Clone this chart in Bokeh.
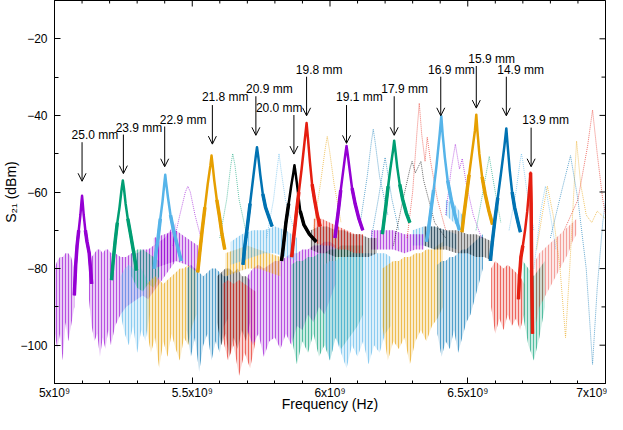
from bokeh.plotting import figure
from bokeh.models import FixedTicker, Range1d, Arrow, OpenHead, ColumnDataSource
from bokeh.core.properties import value
from bokeh.embed import file_html
from bokeh.resources import INLINE

# ---------------- data (frequency in GHz, S21 in dBm) ----------------
PURPLE = "#9400D3"; GREEN = "#009E73"; LBLUE = "#56B4E9"; ORANGE = "#E69F00"
BLUE = "#0072B2"; RED = "#E51E10"; BLACK = "#000000"

# solid resonance peaks (one per resonator length)
f_250 = [5.072, 5.077, 5.082, 5.088, 5.094, 5.098, 5.100, 5.102, 5.106, 5.112, 5.118, 5.126, 5.135]
s_250 = [-87, -79, -74, -70, -66, -62.5, -61, -62.5, -66, -70, -73, -76, -84]
f_239 = [5.207, 5.213, 5.220, 5.228, 5.236, 5.244, 5.248, 5.252, 5.258, 5.266, 5.276, 5.288, 5.298]
s_239 = [-83, -78, -73, -68, -64, -59, -57, -59, -63, -67, -71, -76, -80.5]
f_229 = [5.362, 5.368, 5.376, 5.384, 5.392, 5.399, 5.402, 5.405, 5.412, 5.421, 5.432, 5.446, 5.460]
s_229 = [-80, -76, -72, -67, -62.5, -57.5, -55.5, -57.5, -61.5, -66, -70, -74, -78]
f_218 = [5.520, 5.527, 5.536, 5.546, 5.556, 5.566, 5.570, 5.574, 5.580, 5.589, 5.598, 5.608, 5.618]
s_218 = [-81, -76, -70, -64, -58, -53, -50.5, -53, -57, -62, -66, -71, -75]
f_209 = [5.684, 5.691, 5.700, 5.710, 5.720, 5.730, 5.735, 5.740, 5.747, 5.756, 5.766, 5.778, 5.790]
s_209 = [-79, -74, -69, -63, -57, -51, -48.3, -51, -55.5, -60.5, -64, -66.5, -69]
f_200 = [5.824, 5.831, 5.840, 5.850, 5.859, 5.867, 5.871, 5.875, 5.882, 5.892, 5.905, 5.925, 5.950]
s_200 = [-78, -74, -68, -63, -58.5, -55, -53, -55, -59, -65, -68.5, -71, -73]
f_198 = [5.861, 5.868, 5.877, 5.887, 5.897, 5.909, 5.915, 5.920, 5.927, 5.935, 5.944, 5.954, 5.964]
s_198 = [-77, -72, -66, -60, -54, -46, -42, -46, -52, -58, -62, -66, -69]
f_191 = [6.018, 6.024, 6.031, 6.039, 6.047, 6.056, 6.060, 6.064, 6.071, 6.080, 6.091, 6.105, 6.119]
s_191 = [-72, -68.5, -64.5, -59.5, -55, -50, -48, -50, -54, -59, -63, -67, -70]
f_179 = [6.190, 6.196, 6.203, 6.211, 6.219, 6.229, 6.233, 6.237, 6.244, 6.253, 6.264, 6.277, 6.290]
s_179 = [-71, -67.5, -63.5, -58.5, -54, -49, -46.6, -49, -53.5, -58, -62, -65.5, -68]
f_169 = [6.350, 6.357, 6.366, 6.376, 6.386, 6.398, 6.404, 6.409, 6.417, 6.427, 6.440, 6.455, 6.470]
s_169 = [-73, -70, -65, -59.5, -53.5, -45, -40.2, -45, -51, -57, -62, -66.5, -70]
f_159 = [6.479, 6.486, 6.495, 6.505, 6.515, 6.526, 6.531, 6.535, 6.542, 6.552, 6.563, 6.577, 6.590]
s_159 = [-70.5, -66, -61, -55.5, -50, -44, -39.8, -44, -50, -56, -60.5, -65, -68.5]
f_149 = [6.582, 6.590, 6.599, 6.609, 6.620, 6.633, 6.640, 6.645, 6.652, 6.661, 6.670, 6.681, 6.691]
s_149 = [-78, -72.5, -67, -61.5, -55.5, -48, -43.4, -48, -54, -60, -64, -67.5, -70.5]
f_139 = [6.684, 6.688, 6.693, 6.700, 6.708, 6.716, 6.722, 6.726, 6.728, 6.730, 6.732, 6.735]
s_139 = [-88, -82, -77, -74, -70, -65, -60, -56.5, -55, -63, -80, -97]

# secondary (dotted) resonances
d1_f = [5.43, 5.455, 5.475, 5.484, 5.493, 5.51, 5.535]
d1_s = [-74, -66, -60, -58.5, -60, -66, -73]
d2_f = [5.60, 5.625, 5.64, 5.647, 5.655, 5.67, 5.70]
d2_s = [-72, -62, -53, -50, -53, -62, -72]
d3_f = [5.77, 5.795, 5.808, 5.815, 5.822, 5.838, 5.87]
d3_s = [-72, -62, -54, -50, -54, -62, -70]
d4_f = [5.94, 5.965, 5.982, 5.99, 5.998, 6.015, 6.04]
d4_s = [-70, -58, -49, -45.5, -49, -58, -68]
d5_f = [6.11, 6.135, 6.15, 6.157, 6.164, 6.18, 6.21]
d5_s = [-68, -56, -47, -43.6, -47, -56, -66]
d6_f = [6.15, 6.175, 6.193, 6.20, 6.207, 6.225, 6.25]
d6_s = [-72, -62, -54, -51, -54, -62, -70]
d7_f = [6.23, 6.265, 6.29, 6.298, 6.31, 6.33, 6.34, 6.38, 6.42]
d7_s = [-74, -62, -54, -52, -55, -52, -57, -68, -72]
d8_f = [6.28, 6.30, 6.315, 6.324, 6.333, 6.345, 6.353, 6.365, 6.39, 6.42]
d8_s = [-72, -60, -45, -36.8, -45, -52, -45.7, -52, -62, -70]
d9_f = [6.42, 6.44, 6.455, 6.47, 6.48, 6.495, 6.52, 6.55]
d9_s = [-66, -54, -47.5, -54, -51.3, -58, -66, -72]
d10_f = [6.53, 6.56, 6.578, 6.595, 6.62]
d10_s = [-70, -58, -50.7, -58, -68]
d11_f = [6.65, 6.675, 6.69, 6.695, 6.70, 6.715, 6.74]
d11_s = [-70, -60, -52, -50, -52, -60, -70]
d12_f = [6.75, 6.77, 6.789, 6.81, 6.835, 6.855, 6.87, 6.885, 6.895, 6.91, 6.93, 6.95, 6.97, 7.0]
d12_s = [-75, -66, -58.5, -66, -80, -98, -80, -60, -46.7, -58, -66, -68, -65, -67]
d13_f = [6.74, 6.765, 6.782, 6.80, 6.82]
d13_s = [-80, -65, -58.5, -66, -75]
d14_f = [6.80, 6.84, 6.873, 6.90, 6.93, 6.953, 6.97, 6.99, 7.0]
d14_s = [-72, -60, -50.5, -62, -80, -105, -85, -68, -62]
d15_f = [6.85, 6.90, 6.935, 6.953, 6.97, 6.99, 7.0]
d15_s = [-70, -62, -48, -38.6, -50, -62, -66]

# noisy baseline clouds: frequency, upper and lower envelope
c_pa1_f = [5.000, 5.010, 5.020, 5.030, 5.040, 5.050, 5.060, 5.072]
c_pa1_hi = [-80, -78, -77, -77, -76, -76, -77, -80]
c_pa1_lo = [-96, -101, -97, -104, -94, -99, -95, -90]
c_pa2_f = [5.125, 5.135, 5.145, 5.155, 5.165, 5.175, 5.185, 5.195, 5.205, 5.220, 5.240,
           5.260, 5.280, 5.300, 5.320, 5.340, 5.360, 5.380, 5.400, 5.420, 5.440]
c_pa2_hi = [-80, -77, -76, -75, -75, -76, -75, -75, -76, -76, -77,
            -77, -76, -76, -75, -75, -74, -73, -72, -70, -68]
c_pa2_lo = [-88, -95, -99, -97, -103, -98, -101, -96, -100, -95, -92,
            -90, -89, -88, -87, -88, -86, -84, -82, -80, -78]
c_ga_f = [5.280, 5.300, 5.320, 5.340, 5.360, 5.380]
c_ga_hi = [-76, -75, -75, -76, -77, -78]
c_ga_lo = [-82, -85, -86, -84, -85, -82]
c_la_f = [5.240, 5.255, 5.270, 5.285, 5.300, 5.315, 5.330, 5.345]
c_la_hi = [-82, -80, -79, -80, -81, -80, -82, -84]
c_la_lo = [-92, -97, -100, -95, -102, -96, -99, -92]
c_oa_f = [5.335, 5.350, 5.365, 5.380, 5.395, 5.410, 5.425, 5.440, 5.455, 5.470, 5.485, 5.500, 5.515]
c_oa_hi = [-84, -83, -82, -83, -84, -83, -82, -81, -80, -80, -79, -80, -80]
c_oa_lo = [-96, -102, -98, -106, -99, -103, -97, -101, -104, -98, -100, -95, -92]
c_ba_f = [5.480, 5.495, 5.510, 5.525, 5.540, 5.555, 5.570, 5.585, 5.600, 5.615, 5.630]
c_ba_hi = [-80, -79, -80, -81, -82, -81, -80, -80, -81, -82, -82]
c_ba_lo = [-96, -103, -98, -107, -100, -97, -104, -99, -102, -95, -93]
c_ka_f = [5.590, 5.605, 5.620, 5.635, 5.650, 5.665, 5.680, 5.695, 5.710]
c_ka_hi = [-82, -81, -80, -80, -81, -80, -82, -82, -83]
c_ka_lo = [-94, -100, -97, -103, -98, -101, -96, -99, -94]
c_ra_f = [5.610, 5.630, 5.650, 5.670, 5.690, 5.710, 5.730]
c_ra_hi = [-84, -83, -84, -83, -84, -85, -86]
c_ra_lo = [-98, -104, -100, -108, -102, -106, -99]
c_pb_f = [5.700, 5.720, 5.740, 5.760, 5.780, 5.800, 5.820, 5.840, 5.860, 5.880, 5.900,
          5.920, 5.940, 5.960, 5.980, 6.000, 6.020]
c_pb_hi = [-82, -80, -79, -80, -79, -78, -78, -77, -76, -76, -75, -75, -74, -74, -73, -73, -74]
c_pb_lo = [-96, -100, -97, -103, -99, -98, -101, -97, -100, -95, -96, -92, -94, -90, -92, -88, -84]
c_gb_f = [5.860, 5.880, 5.900, 5.920, 5.940, 5.960, 5.980, 6.000, 6.020, 6.040, 6.060,
          6.080, 6.100, 6.120]
c_gb_hi = [-79, -78, -78, -77, -77, -76, -76, -75, -75, -74, -74, -74, -74, -74]
c_gb_lo = [-98, -105, -99, -102, -97, -103, -100, -104, -98, -101, -99, -97, -95, -92]
c_lb_f = [5.980, 6.000, 6.020, 6.040, 6.060, 6.080, 6.100, 6.120, 6.140, 6.160, 6.180, 6.200, 6.220]
c_lb_hi = [-79, -78, -78, -77, -77, -76, -76, -76, -76, -76, -76, -76, -77]
c_lb_lo = [-99, -104, -98, -102, -106, -100, -103, -99, -105, -100, -102, -97, -95]
c_ob_f = [6.190, 6.210, 6.230, 6.250, 6.270, 6.290, 6.310, 6.330, 6.350, 6.370, 6.390, 6.410]
c_ob_hi = [-80, -79, -78, -78, -77, -77, -76, -76, -75, -75, -74, -73]
c_ob_lo = [-95, -104, -99, -101, -98, -105, -99, -96, -99, -95, -93, -90]
c_bb_f = [6.390, 6.405, 6.420, 6.435, 6.450, 6.465, 6.480, 6.495, 6.510, 6.525, 6.540, 6.555]
c_bb_hi = [-79, -78, -78, -77, -77, -76, -75, -75, -74, -73, -72, -71]
c_bb_lo = [-97, -103, -99, -101, -96, -102, -98, -94, -92, -88, -84, -80]
c_rb_f = [6.585, 6.600, 6.615, 6.630, 6.645, 6.660, 6.675, 6.690, 6.705]
c_rb_hi = [-80, -78, -79, -80, -79, -80, -81, -82, -84]
c_rb_lo = [-90, -97, -93, -96, -92, -95, -93, -96, -92]
c_rc_f = [6.745, 6.760, 6.775, 6.790, 6.805, 6.820, 6.835, 6.850, 6.865, 6.880, 6.895]
c_rc_hi = [-78, -76, -75, -74, -73, -72, -71, -70, -69, -68, -67]
c_rc_lo = [-95, -90, -88, -86, -84, -82, -80, -78, -76, -73, -71]
c_gc_f = [6.70, 6.72, 6.74, 6.76, 6.78]
c_gc_hi = [-78, -80, -82, -80, -78]
c_gc_lo = [-92, -100, -104, -98, -90]
# upper (about -70 dBm) band
u_p1_f = [5.36, 5.40, 5.44, 5.48, 5.52]
u_p1_hi = [-72, -71, -70, -72, -74]
u_p1_lo = [-80, -79, -78, -79, -81]
u_l1_f = [5.64, 5.68, 5.72, 5.76, 5.80, 5.84, 5.88]
u_l1_hi = [-73, -71, -70, -70, -69, -70, -72]
u_l1_lo = [-79, -78, -77, -76, -76, -77, -78]
u_o1_f = [5.62, 5.66, 5.70, 5.74, 5.78, 5.82]
u_o1_hi = [-76, -75, -74, -75, -76, -77]
u_o1_lo = [-82, -81, -80, -80, -81, -82]
u_k1_f = [5.93, 5.96, 5.99, 6.02, 6.05, 6.08, 6.11, 6.14, 6.17]
u_k1_hi = [-70, -69, -69, -70, -70, -71, -71, -72, -72]
u_k1_lo = [-75, -76, -76, -77, -77, -77, -77, -77, -76]
u_r1_f = [5.94, 5.97, 6.00, 6.03, 6.06, 6.09, 6.12]
u_r1_hi = [-67, -67, -68, -69, -70, -71, -71]
u_r1_lo = [-73, -74, -74, -75, -75, -76, -76]
u_p2_f = [6.15, 6.19, 6.23, 6.27, 6.31, 6.34]
u_p2_hi = [-70, -70, -70, -71, -71, -71]
u_p2_lo = [-75, -75, -75, -76, -75, -75]
u_g1_f = [6.30, 6.34, 6.38, 6.42, 6.46]
u_g1_hi = [-70, -69, -69, -70, -71]
u_g1_lo = [-74, -74, -75, -74, -75]
u_k2_f = [6.34, 6.38, 6.42, 6.46, 6.50, 6.53, 6.56, 6.59]
u_k2_hi = [-69, -69, -70, -70, -71, -71, -72, -73]
u_k2_lo = [-74, -75, -75, -76, -76, -77, -77, -78]
u_l2_f = [6.42, 6.45, 6.48]
u_l2_hi = [-62, -63, -66]
u_l2_lo = [-66, -68, -70]

# annotations
labels = ["25.0 mm", "23.9 mm", "22.9 mm", "21.8 mm", "20.9 mm", "20.0 mm", "19.8 mm",
          "19.1 mm", "17.9 mm", "16.9 mm", "15.9 mm", "14.9 mm", "13.9 mm"]
label_f = [5.062, 5.222, 5.382, 5.535, 5.695, 5.731, 5.876, 6.022, 6.186, 6.356, 6.502, 6.607, 6.698]
label_s = [-45.2, -43.2, -41.1, -35.3, -33.2, -38.1, -28.1, -35.3, -33.2, -28.1, -25.3, -28.1, -41.1]
arrow_f = [5.100, 5.250, 5.400, 5.573, 5.731, 5.869, 5.915, 6.060, 6.233, 6.402, 6.531, 6.640, 6.730]
arrow_tail = [-47.0, -45.0, -42.9, -37.3, -35.0, -39.9, -29.9, -37.3, -35.0, -29.9, -27.1, -29.9, -43.2]
arrow_tip = [-57.2, -55.2, -53.4, -47.5, -45.2, -50.1, -40.1, -47.3, -45.2, -40.1, -38.1, -40.1, -53.4]

x_major = [5.0, 5.5, 6.0, 6.5, 7.0]
x_minor = [5.1, 5.2, 5.3, 5.4, 5.6, 5.7, 5.8, 5.9, 6.1, 6.2, 6.3, 6.4, 6.6, 6.7, 6.8, 6.9]
x_tick_text = ["5x10⁹", "5.5x10⁹", "6x10⁹", "6.5x10⁹", "7x10⁹"]
y_major = [-100, -80, -60, -40, -20]
y_minor = [-110, -90, -70, -50, -30, -10]

# ---------------- plotting ----------------
def hz(fs):
    return [f * 1e9 for f in fs]

FONT = "Liberation Sans"
p = figure(width=607, height=414, output_backend="svg", toolbar_location=None,
           x_range=Range1d(5e9, 7e9), y_range=Range1d(-110, -10),
           min_border_left=47, min_border_right=2, min_border_top=0, min_border_bottom=31)
p.grid.visible = False
p.background_fill_color = "white"
p.border_fill_color = "white"
p.outline_line_color = "black"
p.outline_line_width = 1
p.outline_line_alpha = 1

clouds = [
    (c_pa1_f, c_pa1_hi, c_pa1_lo, PURPLE), (c_pa2_f, c_pa2_hi, c_pa2_lo, PURPLE),
    (c_la_f, c_la_hi, c_la_lo, LBLUE), (c_ga_f, c_ga_hi, c_ga_lo, GREEN),
    (c_oa_f, c_oa_hi, c_oa_lo, ORANGE), (c_ba_f, c_ba_hi, c_ba_lo, BLUE),
    (c_ka_f, c_ka_hi, c_ka_lo, BLACK), (c_ra_f, c_ra_hi, c_ra_lo, RED),
    (c_pb_f, c_pb_hi, c_pb_lo, PURPLE), (c_gb_f, c_gb_hi, c_gb_lo, GREEN),
    (c_lb_f, c_lb_hi, c_lb_lo, LBLUE), (c_ob_f, c_ob_hi, c_ob_lo, ORANGE),
    (c_bb_f, c_bb_hi, c_bb_lo, BLUE), (c_rb_f, c_rb_hi, c_rb_lo, RED),
    (c_gc_f, c_gc_hi, c_gc_lo, GREEN), (c_rc_f, c_rc_hi, c_rc_lo, RED),
    (u_p1_f, u_p1_hi, u_p1_lo, PURPLE), (u_o1_f, u_o1_hi, u_o1_lo, ORANGE),
    (u_l1_f, u_l1_hi, u_l1_lo, LBLUE), (u_g1_f, u_g1_hi, u_g1_lo, LBLUE),
    (u_p2_f, u_p2_hi, u_p2_lo, PURPLE), (u_k1_f, u_k1_hi, u_k1_lo, BLACK),
    (u_r1_f, u_r1_hi, u_r1_lo, RED), (u_k2_f, u_k2_hi, u_k2_lo, BLACK),
    (u_l2_f, u_l2_hi, u_l2_lo, LBLUE),
]
for f, hi, lo, col in clouds:
    faint = col == RED and f is c_rc_f
    p.varea(x=hz(f), y1=lo, y2=hi, fill_color=col, fill_alpha=0.1 if faint else 0.2,
            hatch_pattern="|", hatch_color=col,
            hatch_alpha=0.35 if faint else (0.6 if col != BLACK else 0.45),
            hatch_scale=3, hatch_weight=1)

dotted = [
    (d1_f, d1_s, PURPLE), (d2_f, d2_s, GREEN), (d3_f, d3_s, LBLUE), (d4_f, d4_s, ORANGE),
    (d5_f, d5_s, BLUE), (d6_f, d6_s, BLUE), (d7_f, d7_s, BLACK), (d8_f, d8_s, RED),
    (d9_f, d9_s, PURPLE), (d10_f, d10_s, GREEN), (d11_f, d11_s, LBLUE), (d12_f, d12_s, ORANGE),
    (d13_f, d13_s, LBLUE), (d14_f, d14_s, BLUE), (d15_f, d15_s, RED),
]
for f, s, col in dotted:
    p.line(hz(f), s, line_color=col, line_width=1, line_dash="1 1", line_alpha=0.6)

solids = [
    (f_250, s_250, PURPLE), (f_239, s_239, GREEN), (f_229, s_229, LBLUE), (f_218, s_218, ORANGE),
    (f_209, s_209, BLUE), (f_200, s_200, BLACK), (f_198, s_198, RED), (f_191, s_191, PURPLE),
    (f_179, s_179, GREEN), (f_169, s_169, LBLUE), (f_159, s_159, ORANGE), (f_149, s_149, BLUE),
    (f_139, s_139, RED),
]
for f, s, col in solids:
    p.line(hz(f), s, line_color=col, line_width=2.5, line_join="round")
    p.line(hz(f[:4]), s[:4], line_color=col, line_width=3.5, line_join="round")
    p.line(hz(f[-4:]), s[-4:], line_color=col, line_width=3.5, line_join="round")

arr_src = ColumnDataSource(dict(x0=hz(arrow_f), y0=arrow_tail, x1=hz(arrow_f), y1=arrow_tip))
p.add_layout(Arrow(end=OpenHead(size=8, line_width=1, line_color="black"),
                   x_start="x0", y_start="y0", x_end="x1", y_end="y1",
                   line_width=1, line_color="black", source=arr_src))
p.text(x=hz(label_f), y=label_s, text=labels, text_font=value(FONT), text_font_size="12px",
       text_baseline="middle", text_align="left", text_color="black")

# mirrored inward ticks on top and right edges
p.scatter(hz(x_major), [-10] * len(x_major), marker="dash", angle=1.5708, size=12,
          line_color="black", line_width=1)
p.scatter(hz(x_minor), [-10] * len(x_minor), marker="dash", angle=1.5708, size=6,
          line_color="black", line_width=1)
p.scatter([7e9] * len(y_major), y_major, marker="dash", size=12, line_color="black", line_width=1)
p.scatter([7e9] * len(y_minor), y_minor, marker="dash", size=8, line_color="black", line_width=1)

xa = p.xaxis[0]
xa.ticker = FixedTicker(ticks=hz(x_major), minor_ticks=hz(x_minor))
xa.major_label_overrides = {t: s for t, s in zip(hz(x_major), x_tick_text)}
xa.axis_label = "Frequency (Hz)"
ya = p.yaxis[0]
ya.ticker = FixedTicker(ticks=y_major, minor_ticks=y_minor)
ya.axis_label = "S₂₁ (dBm)"
for ax in (xa, ya):
    ax.axis_line_color = "black"
    ax.major_tick_in = 6
    ax.major_tick_out = 0
    ax.minor_tick_in = 3
    ax.minor_tick_out = 0
    ax.major_tick_line_color = "black"
    ax.minor_tick_line_color = "black"
    ax.major_label_text_font = FONT
    ax.major_label_text_font_size = "12px"
    ax.major_label_text_color = "black"
    ax.axis_label_text_font = FONT
    ax.axis_label_text_font_size = "14px"
    ax.axis_label_text_font_style = "normal"
    ax.axis_label_text_color = "black"
    ax.axis_label_text_line_height = 1.0
ya.minor_tick_in = 4
xa.major_label_standoff = 2
xa.axis_label_standoff = -7
ya.major_label_standoff = 7
ya.axis_label_standoff = -2

open("out.html", "w").write(file_html(p, INLINE))
